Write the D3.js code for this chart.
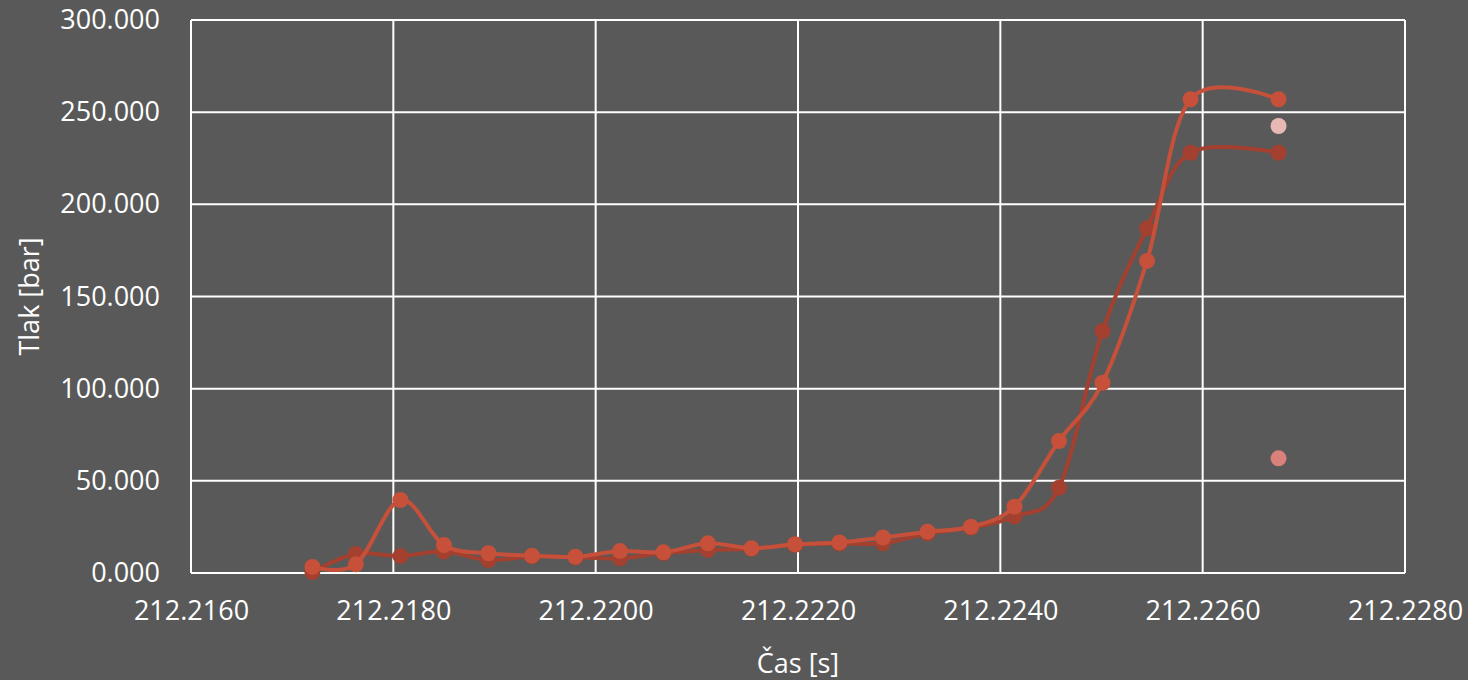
<!DOCTYPE html>
<html>
<head>
<meta charset="utf-8">
<script src="https://cdn.jsdelivr.net/npm/d3@7"></script>
<style>
  html, body { margin: 0; padding: 0; background: #595959; }
  svg { display: block; }
  text { font-family: "Open Sans", "Noto Sans", sans-serif; fill: #ffffff; }
</style>
</head>
<body>
<svg id="chart" width="1468" height="680"></svg>
<script>
// Sample times [s]
const times = [212.21720, 212.21763, 212.21807, 212.21850, 212.21894, 212.21937,
  212.21980, 212.22024, 212.22067, 212.22111, 212.22154, 212.22197, 212.22241,
  212.22284, 212.22328, 212.22371, 212.22414, 212.22458, 212.22501, 212.22545,
  212.22588, 212.22675];

// Pressure [bar], first sensor
const pressureA = [0.5, 10.3, 9.2, 11.6, 7.0, 9.0, 8.5, 8.0, 10.8, 12.5, 13.2,
  15.3, 16.0, 16.1, 21.5, 24.6, 30.7, 46.3, 131.3, 187.0, 228.0, 228.0];

// Pressure [bar], second sensor
const pressureB = [3.3, 4.7, 39.6, 15.2, 10.7, 9.4, 8.8, 11.9, 11.2, 16.1, 13.4,
  15.6, 16.6, 19.2, 22.4, 25.1, 36.0, 71.6, 103.2, 169.3, 257.0, 257.0];

// Single readings at the final time
const extraTime = [212.22675];
const extraHigh = [242.5];
const extraLow = [62.2];

const xTicks = [212.216, 212.218, 212.220, 212.222, 212.224, 212.226, 212.228];
const yTicks = [0, 50, 100, 150, 200, 250, 300];

const svg = d3.select("#chart");
const margin = { left: 191, right: 63, top: 20, bottom: 107 };
const W = 1468, H = 680;

const x = d3.scaleLinear().domain([212.216, 212.228]).range([margin.left, W - margin.right]);
const y = d3.scaleLinear().domain([0, 300]).range([H - margin.bottom, margin.top]);

const fmtX = d3.format(".4f");
const fmtY = d3.format(".3f");

// grid
svg.append("g").selectAll("line").data(yTicks).join("line")
  .attr("x1", x.range()[0]).attr("x2", x.range()[1])
  .attr("y1", d => y(d)).attr("y2", d => y(d))
  .attr("stroke", "#ffffff").attr("stroke-width", 2);
svg.append("g").selectAll("line").data(xTicks).join("line")
  .attr("x1", d => x(d)).attr("x2", d => x(d))
  .attr("y1", y.range()[0]).attr("y2", y.range()[1])
  .attr("stroke", "#ffffff").attr("stroke-width", 2);

// axes (labels only; the grid carries the lines)
const xAxis = svg.append("g").attr("transform", `translate(0,${y(0)})`)
  .call(d3.axisBottom(x).tickValues(xTicks).tickFormat(fmtX).tickSize(0).tickPadding(28));
xAxis.select(".domain").remove();
xAxis.selectAll("text").style("font-size", "27px").attr("fill", "#ffffff");

const yAxis = svg.append("g").attr("transform", `translate(${x.range()[0]},0)`)
  .call(d3.axisLeft(y).tickValues(yTicks).tickFormat(fmtY).tickSize(0).tickPadding(31));
yAxis.select(".domain").remove();
yAxis.selectAll("text").style("font-size", "27px").attr("fill", "#ffffff");

// axis titles
svg.append("text")
  .attr("x", (x.range()[0] + x.range()[1]) / 2).attr("y", 673)
  .attr("text-anchor", "middle").style("font-size", "27px")
  .text("Čas [s]");
svg.append("text")
  .attr("transform", `translate(39,${(y.range()[0] + y.range()[1]) / 2}) rotate(-90)`)
  .attr("text-anchor", "middle").style("font-size", "27px")
  .text("Tlak [bar]");

const line = d3.line()
  .x(d => x(d[0])).y(d => y(d[1]))
  .curve(d3.curveCardinal.tension(0));

function drawSeries(vals, color) {
  const pts = times.map((t, i) => [t, vals[i]]);
  svg.append("path").datum(pts)
    .attr("d", line).attr("fill", "none")
    .attr("stroke", color).attr("stroke-width", 4)
    .attr("stroke-linejoin", "round").attr("stroke-linecap", "round");
  svg.append("g").selectAll("circle").data(pts).join("circle")
    .attr("cx", d => x(d[0])).attr("cy", d => y(d[1]))
    .attr("r", 8).attr("fill", color);
}

drawSeries(pressureA, "#a3402f");
drawSeries(pressureB, "#c65039");

svg.append("g").selectAll("circle").data(extraTime.map((t, i) => [t, extraHigh[i]])).join("circle")
  .attr("cx", d => x(d[0])).attr("cy", d => y(d[1])).attr("r", 8).attr("fill", "#e8b9b3");
svg.append("g").selectAll("circle").data(extraTime.map((t, i) => [t, extraLow[i]])).join("circle")
  .attr("cx", d => x(d[0])).attr("cy", d => y(d[1])).attr("r", 8).attr("fill", "#d9817a");
</script>
</body>
</html>
